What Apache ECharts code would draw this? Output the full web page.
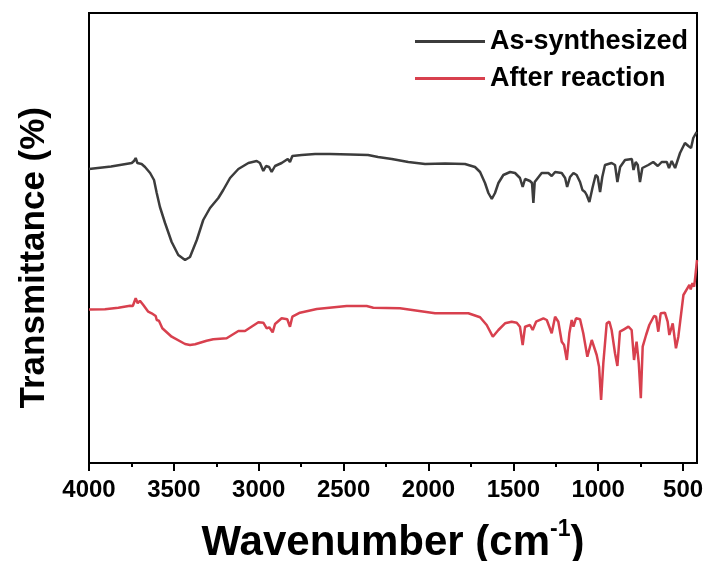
<!DOCTYPE html>
<html>
<head>
<meta charset="utf-8">
<script src="https://cdn.jsdelivr.net/npm/echarts@6/dist/echarts.min.js"></script>
<style>html,body{margin:0;padding:0;background:#fff;}#c{width:707px;height:561px;}</style>
</head>
<body>
<div id="c"></div>
<script>
// Wavenumber (cm-1) / transmittance (arbitrary units, offset spectra)
const seriesNames = ['As-synthesized', 'After reaction'];
const majorTicks = [4000, 3500, 3000, 2500, 2000, 1500, 1000, 500];
const minorTicks = [3750, 3250, 2750, 2250, 1750, 1250, 750];

const asSynthWn = [4000,3870,3748,3735,3725,3715,3705,3690,3670,3640,3617,3601,3582,3552,3513,3474,3434,3405,3365,3327,3287,3238,3209,3169,3120,3061,3012,2993,2973,2957,2939,2924,2904,2865,2829,2816,2802,2747,2668,2580,2460,2356,2297,2216,2119,2020,1902,1785,1726,1696,1667,1647,1627,1608,1588,1559,1519,1490,1461,1445,1431,1402,1390,1382,1374,1333,1294,1274,1254,1215,1195,1183,1166,1146,1127,1107,1093,1078,1068,1052,1034,1015,1003,989,976,960,921,901,887,871,842,802,792,779,767,754,740,705,676,649,626,596,583,567,547,518,489,469,453,440,420];
const asSynthT = [294,296.5,300,302,305,300,302,299,296,290,283,270,256,240,221,208,203,206,223,243,255,265,273,285,294,300,302,300,292,297,296,291,297,300,304,301,307,308,309,309,308.5,308,306,304,301,299,299.5,299,296,291,280,270,264,270,280,288,291,290,285,276,284,282,280,260,281,290,290,287,291,290,285,276,286,290,288,281,273,271,268,261,275,288,286,271,286,298,300,298,281,296,303,304,293,301,298,281,295,298,301,297,301,301,295,302,295,310,320,317,315,325,331];

const afterWn = [4000,3906,3827,3758,3742,3725,3713,3700,3680,3651,3631,3621,3607,3601,3588,3568,3513,3434,3405,3375,3307,3268,3189,3120,3081,3002,2973,2953,2938,2918,2904,2865,2832,2816,2802,2757,2658,2482,2364,2325,2168,1961,1873,1765,1696,1657,1621,1588,1549,1510,1480,1461,1445,1431,1402,1386,1366,1323,1303,1274,1254,1235,1215,1201,1185,1170,1156,1146,1131,1107,1088,1064,1038,1009,995,983,970,950,934,921,901,887,872,848,822,803,789,774,761,749,738,718,699,671,659,646,632,607,591,581,561,542,528,498,475,463,455,445,435,428,418];
const afterT = [153.5,153.7,155.3,157.3,157,164.7,159.7,162.3,158,151.3,149.7,150.3,147,143,142.3,134.7,126.3,119,118,118.7,122.3,123.7,124.7,132,132,140.7,140.3,134.7,135.7,130.7,139,144.7,143.7,136.3,146.3,150.3,154,157,157,155.3,154.7,149.7,149.7,149.7,145.7,138,126.3,133,139.7,141.3,140.3,136.3,118,136.3,138,133,141.3,144.7,143,129.7,146.3,141.3,121.3,118,103,129.7,143,136.3,144.7,143.7,129.7,106.3,123,108,96.3,63,99.7,139.7,141.3,133,109.7,97,131.3,133.7,136.3,133,103,121.3,99.7,64.7,116.3,128,138,147,146.3,131.3,149.7,150.3,141.3,128,139.7,114.7,126.3,168,174.7,178,173.7,180,176.3,186.3,203];

const toPairs = (xs, ys) => xs.map((x, i) => [x, ys[i]]);

const FONT = '"Liberation Sans", Arial, sans-serif';
const chart = echarts.init(document.getElementById('c'), null, {renderer: 'canvas'});
chart.setOption({
  animation: false,
  backgroundColor: '#fff',
  grid: {left: 89, right: 10, top: 13, bottom: 98, containLabel: false, outerBoundsMode: 'none', show: true, borderColor: '#000', borderWidth: 2, backgroundColor: 'transparent'},
  legend: {
    orient: 'vertical', left: 415, top: 28, padding: 0, itemWidth: 70, itemHeight: 3, itemGap: 10, icon: 'rect',
    data: seriesNames,
    textStyle: {fontFamily: FONT, fontWeight: 'bold', fontSize: 27, color: '#000'}
  },
  xAxis: [{
    type: 'value', inverse: true, min: 418, max: 4000,
    axisLine: {show: true, lineStyle: {color: '#000', width: 2}},
    axisTick: {show: true, customValues: majorTicks, length: 8, lineStyle: {color: '#000', width: 2}},
    axisLabel: {show: true, customValues: majorTicks, formatter: v => String(v), fontFamily: FONT, fontWeight: 'bold', fontSize: 24, color: '#000', margin: 15},
    splitLine: {show: false},
    name: '{t|Wavenumber (cm}{s|-1}{t|)}',
    nameLocation: 'middle', nameGap: 55,
    nameTextStyle: {
      rich: {
        t: {fontFamily: FONT, fontWeight: 'bold', fontSize: 42, color: '#000', verticalAlign: 'bottom', lineHeight: 46},
        s: {fontFamily: FONT, fontWeight: 'bold', fontSize: 23, color: '#000', verticalAlign: 'top', lineHeight: 46, padding: [0, 0, 20, 0]}
      }
    }
  }, {
    type: 'value', inverse: true, min: 418, max: 4000, position: 'bottom',
    axisLine: {show: false},
    axisTick: {show: true, customValues: minorTicks, length: 4, lineStyle: {color: '#000', width: 2}},
    axisLabel: {show: false},
    splitLine: {show: false}
  }],
  yAxis: {
    type: 'value', min: 0, max: 450,
    axisLine: {show: true, lineStyle: {color: '#000', width: 2}},
    axisTick: {show: false}, axisLabel: {show: false}, splitLine: {show: false}
  },
  graphic: [{
    type: 'text', left: 17, top: 107,
    rotation: Math.PI / 2,
    style: {text: 'Transmittance (%)', font: 'bold 35px ' + FONT, fill: '#000'}
  }],
  series: [{
    name: seriesNames[0], type: 'line', symbol: 'none', data: toPairs(asSynthWn, asSynthT),
    lineStyle: {color: '#3c3c3c', width: 2.5}, itemStyle: {color: '#3c3c3c'}
  }, {
    name: seriesNames[1], type: 'line', symbol: 'none', data: toPairs(afterWn, afterT),
    lineStyle: {color: '#d8404e', width: 2.5}, itemStyle: {color: '#d8404e'}
  }]
});
</script>
</body>
</html>
